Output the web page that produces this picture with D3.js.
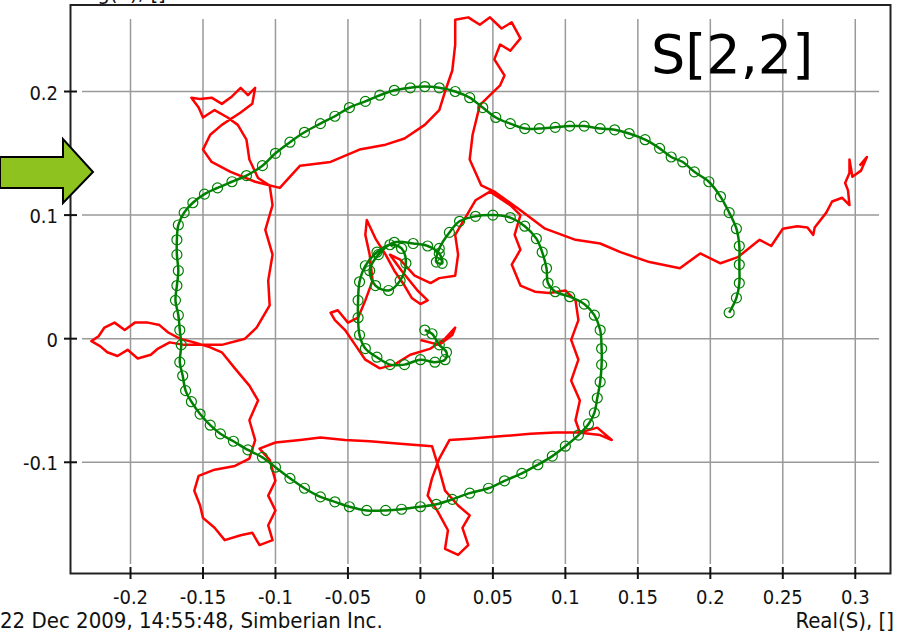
<!DOCTYPE html>
<html lang="en">
<head>
<meta charset="UTF-8">
<title>S[2,2]</title>
<style>
  body { margin: 0; background: #fff; }
  svg { display: block; }
  .tick-label { font-family: "Liberation Sans Narrow", "DejaVu Sans Condensed", Arial, sans-serif; font-size: 20px; fill: #111; }
  .note { font-family: "Liberation Sans Narrow", "DejaVu Sans Condensed", Arial, sans-serif; font-size: 22px; fill: #111; }
  .grid { stroke: #9a9a9a; stroke-width: 1.5px; }
  .frame { fill: none; stroke: #222; stroke-width: 2px; }
</style>
</head>
<body>
<svg width="906" height="634"></svg>
<script src="https://d3js.org/d3.v7.min.js"></script>
<script>
// tick values
const xTicks = [-0.2, -0.15, -0.1, -0.05, 0, 0.05, 0.1, 0.15, 0.2, 0.25, 0.3];
const yTicks = [-0.1, 0, 0.1, 0.2];

// measured S22 (red), real / imag
const measRe = [
  -0.000, 0.013, 0.022, 0.024, 0.017, 0.007, -0.007, -0.018, -0.028, -0.038,
  -0.045, -0.052, -0.059, -0.062, -0.057, -0.050, -0.043, -0.038, -0.033, -0.035,
  -0.038, -0.037, -0.031, -0.024, -0.018, -0.011, -0.006, -0.000, 0.005, -0.002,
  -0.013, -0.021, -0.014, -0.004, 0.007, 0.013, 0.024, 0.026, 0.024, 0.031,
  0.038, 0.048, 0.062, 0.069, 0.065, 0.069, 0.063, 0.069, 0.079, 0.089,
  0.100, 0.107, 0.109, 0.104, 0.109, 0.104, 0.110, 0.107, 0.110, 0.122,
  0.132, 0.124, 0.109, 0.093, 0.076, 0.055, 0.034, 0.020, 0.013, 0.008,
  0.005, 0.012, 0.019, 0.017, 0.026, 0.033, 0.029, 0.034, 0.026, 0.017,
  0.013, 0.008, -0.014, -0.035, -0.052, -0.069, -0.083, -0.100, -0.111, -0.104,
  -0.100, -0.105, -0.100, -0.105, -0.102, -0.111, -0.116, -0.124, -0.135, -0.142,
  -0.150, -0.152, -0.156, -0.153, -0.142, -0.128, -0.118, -0.114, -0.118, -0.112,
  -0.118, -0.128, -0.137, -0.145, -0.156, -0.166, -0.174, -0.180, -0.188, -0.197,
  -0.204, -0.211, -0.218, -0.222, -0.227, -0.221, -0.216, -0.209, -0.202, -0.195,
  -0.186, -0.181, -0.173, -0.163, -0.152, -0.137, -0.121, -0.113, -0.104, -0.105,
  -0.102, -0.107, -0.102, -0.104, -0.112, -0.118, -0.120, -0.126, -0.133, -0.142,
  -0.150, -0.153, -0.158, -0.152, -0.144, -0.137, -0.130, -0.124, -0.119, -0.114,
  -0.116, -0.124, -0.137, -0.145, -0.150, -0.144, -0.131, -0.114, -0.097, -0.083,
  -0.062, -0.042, -0.024, -0.011, 0.003, 0.013, 0.017, 0.022, 0.024, 0.024,
  0.033, 0.041, 0.048, 0.056, 0.063, 0.069, 0.062, 0.055, 0.051, 0.058,
  0.055, 0.048, 0.041, 0.036, 0.034, 0.042, 0.051, 0.069, 0.086, 0.107,
  0.124, 0.138, 0.158, 0.179, 0.193, 0.207, 0.219, 0.234, 0.242, 0.250,
  0.260, 0.267, 0.271, 0.272, 0.280, 0.284, 0.291, 0.296, 0.295, 0.293,
  0.296, 0.296, 0.298, 0.304, 0.308, 0.303
];
const measIm = [
  -0.001, -0.005, 0.003, 0.009, 0.000, -0.008, -0.013, -0.021, -0.024, -0.017,
  -0.005, 0.007, 0.015, 0.021, 0.023, 0.013, 0.017, 0.031, 0.047, 0.068,
  0.084, 0.096, 0.081, 0.068, 0.055, 0.043, 0.033, 0.028, 0.031, 0.039,
  0.055, 0.068, 0.064, 0.051, 0.045, 0.049, 0.051, 0.068, 0.084, 0.098,
  0.112, 0.119, 0.108, 0.100, 0.084, 0.072, 0.060, 0.043, 0.038, 0.037,
  0.039, 0.031, 0.015, -0.001, -0.017, -0.034, -0.050, -0.066, -0.076, -0.072,
  -0.082, -0.078, -0.076, -0.076, -0.077, -0.079, -0.081, -0.082, -0.097, -0.113,
  -0.127, -0.140, -0.155, -0.170, -0.175, -0.167, -0.153, -0.143, -0.135, -0.123,
  -0.106, -0.087, -0.085, -0.083, -0.082, -0.080, -0.082, -0.084, -0.089, -0.098,
  -0.115, -0.127, -0.139, -0.151, -0.163, -0.167, -0.157, -0.159, -0.163, -0.153,
  -0.145, -0.135, -0.123, -0.111, -0.106, -0.103, -0.097, -0.082, -0.066, -0.050,
  -0.038, -0.024, -0.011, -0.007, -0.003, 0.000, 0.005, 0.011, 0.013, 0.013,
  0.007, 0.013, 0.009, 0.002, -0.002, -0.006, -0.011, -0.014, -0.009, -0.016,
  -0.013, -0.008, -0.003, -0.005, -0.005, -0.005, 0.000, 0.009, 0.027, 0.047,
  0.068, 0.088, 0.108, 0.124, 0.130, 0.145, 0.161, 0.173, 0.179, 0.185,
  0.179, 0.187, 0.195, 0.194, 0.195, 0.190, 0.196, 0.203, 0.197, 0.203,
  0.190, 0.183, 0.173, 0.165, 0.153, 0.143, 0.135, 0.127, 0.122, 0.140,
  0.143, 0.153, 0.157, 0.162, 0.173, 0.185, 0.200, 0.217, 0.238, 0.258,
  0.260, 0.254, 0.260, 0.251, 0.256, 0.243, 0.233, 0.238, 0.226, 0.213,
  0.205, 0.197, 0.189, 0.165, 0.145, 0.124, 0.119, 0.104, 0.089, 0.080,
  0.077, 0.070, 0.062, 0.057, 0.069, 0.061, 0.066, 0.080, 0.075, 0.089,
  0.091, 0.090, 0.084, 0.090, 0.102, 0.111, 0.114, 0.108, 0.120, 0.126,
  0.134, 0.145, 0.131, 0.136, 0.147, 0.140
];

// model S22 (green), real / imag
const modelRe = [
  0.003, 0.008, 0.013, 0.018, 0.017, 0.010, -0.000, -0.011, -0.021, -0.030,
  -0.038, -0.042, -0.043, -0.043, -0.042, -0.038, -0.030, -0.021, -0.013, -0.010,
  -0.014, -0.022, -0.031, -0.035, -0.029, -0.018, -0.005, 0.005, 0.013, 0.015,
  0.011, 0.013, 0.020, 0.027, 0.038, 0.050, 0.062, 0.072, 0.080, 0.084,
  0.087, 0.088, 0.093, 0.103, 0.113, 0.120, 0.124, 0.125, 0.125, 0.124,
  0.122, 0.120, 0.116, 0.109, 0.100, 0.091, 0.081, 0.070, 0.058, 0.047,
  0.034, 0.022, 0.011, -0.000, -0.013, -0.024, -0.037, -0.049, -0.059, -0.069,
  -0.080, -0.090, -0.100, -0.109, -0.119, -0.129, -0.138, -0.145, -0.152, -0.158,
  -0.162, -0.164, -0.166, -0.165, -0.166, -0.167, -0.169, -0.168, -0.167, -0.168,
  -0.168, -0.167, -0.163, -0.157, -0.149, -0.140, -0.130, -0.120, -0.109, -0.100,
  -0.090, -0.080, -0.069, -0.059, -0.049, -0.038, -0.028, -0.018, -0.007, 0.003,
  0.013, 0.024, 0.034, 0.043, 0.052, 0.062, 0.072, 0.082, 0.093, 0.103,
  0.113, 0.124, 0.134, 0.144, 0.155, 0.165, 0.173, 0.181, 0.189, 0.199,
  0.207, 0.213, 0.218, 0.220, 0.220, 0.220, 0.218, 0.213
];
const modelIm = [
  0.007, 0.004, -0.005, -0.011, -0.017, -0.019, -0.017, -0.021, -0.021, -0.015,
  -0.008, 0.003, 0.017, 0.031, 0.046, 0.059, 0.070, 0.076, 0.073, 0.061,
  0.047, 0.039, 0.043, 0.055, 0.068, 0.078, 0.077, 0.075, 0.069, 0.061,
  0.062, 0.073, 0.086, 0.095, 0.099, 0.100, 0.098, 0.091, 0.081, 0.070,
  0.057, 0.045, 0.038, 0.034, 0.028, 0.019, 0.007, -0.008, -0.021, -0.035,
  -0.048, -0.060, -0.069, -0.078, -0.087, -0.095, -0.102, -0.109, -0.115, -0.121,
  -0.125, -0.130, -0.134, -0.136, -0.138, -0.139, -0.139, -0.136, -0.132, -0.128,
  -0.121, -0.113, -0.104, -0.096, -0.090, -0.083, -0.077, -0.070, -0.061, -0.051,
  -0.042, -0.030, -0.019, -0.005, 0.007, 0.019, 0.031, 0.043, 0.055, 0.068,
  0.080, 0.092, 0.102, 0.110, 0.117, 0.122, 0.127, 0.132, 0.140, 0.150,
  0.159, 0.167, 0.174, 0.180, 0.187, 0.192, 0.197, 0.201, 0.203, 0.204,
  0.203, 0.200, 0.195, 0.187, 0.179, 0.174, 0.170, 0.170, 0.171, 0.172,
  0.172, 0.170, 0.169, 0.166, 0.161, 0.154, 0.147, 0.143, 0.135, 0.127,
  0.115, 0.102, 0.089, 0.075, 0.060, 0.045, 0.033, 0.021
];

const svg = d3.select("svg");

const x = d3.scaleLinear().domain([-0.2414, 0.3243]).range([70.5, 890.5]);
const y = d3.scaleLinear().domain([-0.19, 0.27]).range([573.5, 5]);

// grid
const grid = svg.append("g");
grid.selectAll(".gx").data(xTicks).enter().append("line")
    .attr("class", "grid")
    .attr("x1", d => x(d)).attr("x2", d => x(d))
    .attr("y1", 19).attr("y2", 564);
grid.selectAll(".gy").data(yTicks).enter().append("line")
    .attr("class", "grid")
    .attr("x1", 82).attr("x2", 879)
    .attr("y1", d => y(d)).attr("y2", d => y(d));

// curves
const meas = measRe.map((r, i) => [r, measIm[i]]);
const model = modelRe.map((r, i) => [r, modelIm[i]]);
const line = d3.line().x(d => x(d[0])).y(d => y(d[1]));

svg.append("path").datum(meas)
    .attr("d", line)
    .attr("fill", "none")
    .attr("stroke", "#ff0000")
    .attr("stroke-width", 2.5)
    .attr("stroke-linejoin", "round");

svg.append("path").datum(model)
    .attr("d", line.curve(d3.curveCatmullRom))
    .attr("fill", "none")
    .attr("stroke", "#008000")
    .attr("stroke-width", 2.5);
svg.append("g").selectAll("circle").data(model).enter().append("circle")
    .attr("cx", d => x(d[0])).attr("cy", d => y(d[1]))
    .attr("r", 5)
    .attr("fill", "none")
    .attr("stroke", "#008000")
    .attr("stroke-width", 1.2);

// frame and ticks
svg.append("rect").attr("class", "frame")
    .attr("x", 70.5).attr("y", 5).attr("width", 820).attr("height", 568.5);
svg.append("g").selectAll("line").data(xTicks).enter().append("line")
    .attr("x1", d => x(d)).attr("x2", d => x(d))
    .attr("y1", 567).attr("y2", 579)
    .attr("stroke", "#111").attr("stroke-width", 2);
svg.append("g").selectAll("line").data(yTicks).enter().append("line")
    .attr("x1", 64).attr("x2", 77)
    .attr("y1", d => y(d)).attr("y2", d => y(d))
    .attr("stroke", "#111").attr("stroke-width", 2);

// tick labels
svg.append("g").selectAll("text").data(xTicks).enter().append("text")
    .attr("class", "tick-label")
    .attr("x", d => x(d)).attr("y", 604)
    .attr("text-anchor", "middle")
    .text(d => String(d));
svg.append("g").selectAll("text").data(yTicks).enter().append("text")
    .attr("class", "tick-label")
    .attr("x", 58).attr("y", d => y(d) + 8)
    .attr("text-anchor", "end")
    .text(d => String(d));

svg.append("text").attr("class", "note")
    .attr("x", 0).attr("y", 628)
    .text("22 Dec 2009, 14:55:48, Simberian Inc.");
svg.append("text").attr("class", "note")
    .attr("x", 894).attr("y", 628).attr("text-anchor", "end")
    .text("Real(S), []");
// y axis name sits mostly above the window, as in the source
svg.append("text").attr("class", "note")
    .attr("x", 60).attr("y", 0)
    .text("Imag(S), []");

// title
svg.append("text")
    .attr("x", 651).attr("y", 73)
    .attr("font-family", "DejaVu Sans, sans-serif")
    .attr("font-size", 54)
    .attr("fill", "#000")
    .text("S[2,2]");

// pointer arrow
svg.append("path")
    .attr("d", "M0,157 L63,157 L63,139 L93,172 L63,203 L63,188 L0,188 Z")
    .attr("fill", "#8dc21f")
    .attr("stroke", "#000")
    .attr("stroke-width", 2);
</script>
</body>
</html>
